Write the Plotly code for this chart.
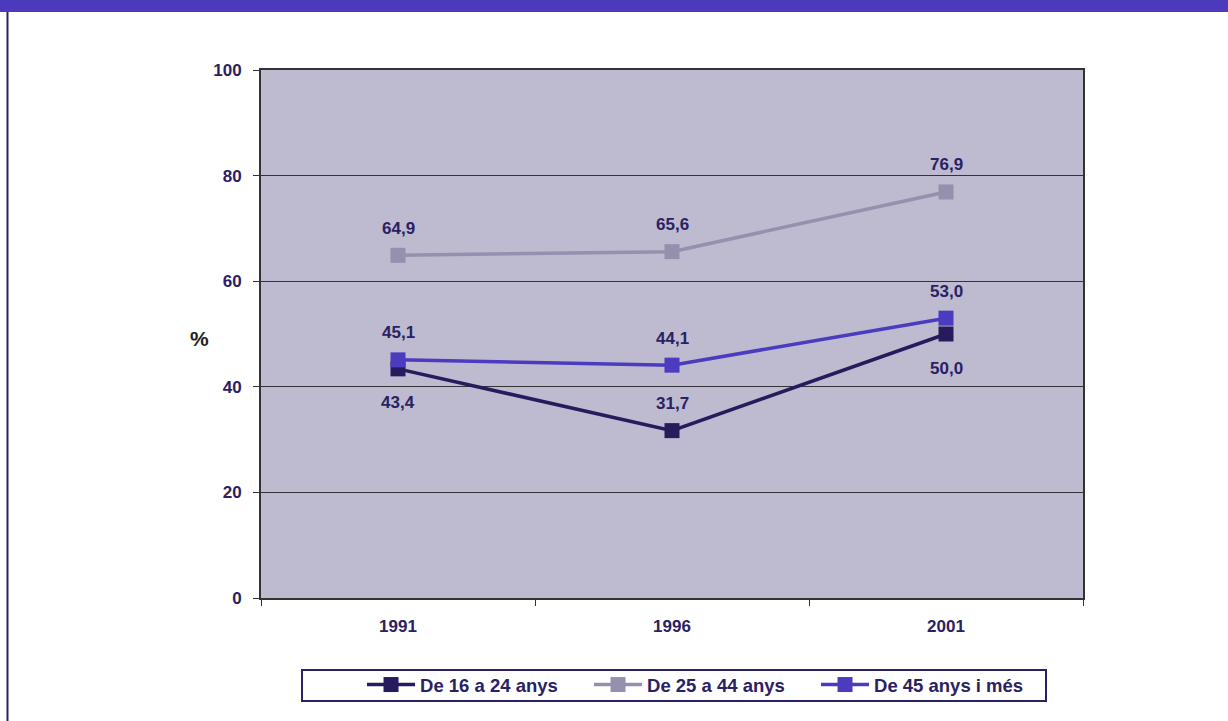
import plotly.graph_objects as go

years = ["1991", "1996", "2001"]
series_names = ["De 16 a 24 anys", "De 25 a 44 anys", "De 45 anys i més"]
v_16_24 = [43.4, 31.7, 50.0]
v_25_44 = [64.9, 65.6, 76.9]
v_45_mes = [45.1, 44.1, 53.0]
label_side_16_24 = ["below", "above", "below"]
label_side_25_44 = ["above", "above", "above"]
label_side_45_mes = ["above", "above", "above"]
y_ticks = [0, 20, 40, 60, 80, 100]

colors = ["#271b5e", "#9690ae", "#4b3bbf"]
text_color = "#2a2162"
FONT = "Liberation Sans, Arial, sans-serif"

fig = go.Figure()
all_series = [(v_16_24, label_side_16_24), (v_25_44, label_side_25_44), (v_45_mes, label_side_45_mes)]
for name, (vals, sides), col in zip(series_names, all_series, colors):
    fig.add_trace(go.Scatter(
        x=years, y=vals, name=name, mode="lines+markers",
        line=dict(color=col, width=3.5),
        marker=dict(symbol="square", size=15, color=col),
        hoverinfo="skip",
    ))

annotations = []
for vals, sides in all_series:
    for i, (v, s) in enumerate(zip(vals, sides)):
        annotations.append(dict(
            x=i, y=v, xref="x", yref="y",
            text=f"{v:.1f}".replace(".", ","),
            showarrow=False,
            yshift=27 if s == "above" else -34,
            font=dict(family=FONT, size=17, color=text_color, weight="bold"),
        ))
annotations.append(dict(
    x=-0.0888, y=0.4924, xref="paper", yref="paper", text="%",
    showarrow=False, font=dict(family=FONT, size=21, color="#222222", weight="bold"),
))

shapes = [
    # top bar
    dict(type="rect", xref="paper", yref="paper", x0=-0.32, x1=1.18, y0=1.1098, y1=1.14,
         fillcolor="#4b3bbc", line=dict(width=0), layer="above"),
    # left page border
    dict(type="line", xref="paper", yref="paper", x0=-0.3084, x1=-0.3084, y0=-0.24, y1=1.1098,
         line=dict(color="#2a2162", width=2)),
    # legend box
    dict(type="rect", xref="paper", yref="paper", x0=0.0499, x1=0.955, y0=-0.195, y1=-0.1364,
         fillcolor="white", line=dict(color="#2a2162", width=2), layer="below"),
]

fig.update_layout(
    width=1228, height=721,
    margin=dict(l=261, r=145, t=70, b=123),
    paper_bgcolor="white",
    plot_bgcolor="#bebad0",
    showlegend=True,
    legend=dict(
        orientation="h", x=0.1229, y=-0.1648, xanchor="left", yanchor="middle",
        bgcolor="rgba(0,0,0,0)", borderwidth=0,
        font=dict(family=FONT, size=18.5, color=text_color, weight="bold"),
        entrywidth=164, entrywidthmode="pixels", itemwidth=48,
        traceorder="normal",
    ),
    xaxis=dict(
        type="category", range=[-0.5, 2.5], tickson="boundaries",
        ticks="outside", ticklen=6, tickcolor="#333333", tickwidth=1,
        showline=True, linecolor="#333333", linewidth=2, mirror=True,
        showgrid=False, zeroline=False,
        tickfont=dict(family=FONT, size=17, color=text_color, weight="bold"),
        ticklabelstandoff=12,
    ),
    yaxis=dict(
        range=[0, 100], tickvals=y_ticks,
        ticks="outside", ticklen=6, tickcolor="#333333", tickwidth=1,
        showline=True, linecolor="#333333", linewidth=2, mirror=True,
        showgrid=True, gridcolor="#333333", gridwidth=1, zeroline=False,
        tickfont=dict(family=FONT, size=17, color=text_color, weight="bold"),
        ticklabelstandoff=8,
    ),
    annotations=annotations,
    shapes=shapes,
)

fig.write_html("out.html", config={"displayModeBar": False},
               post_script="document.body.style.margin='0';")
